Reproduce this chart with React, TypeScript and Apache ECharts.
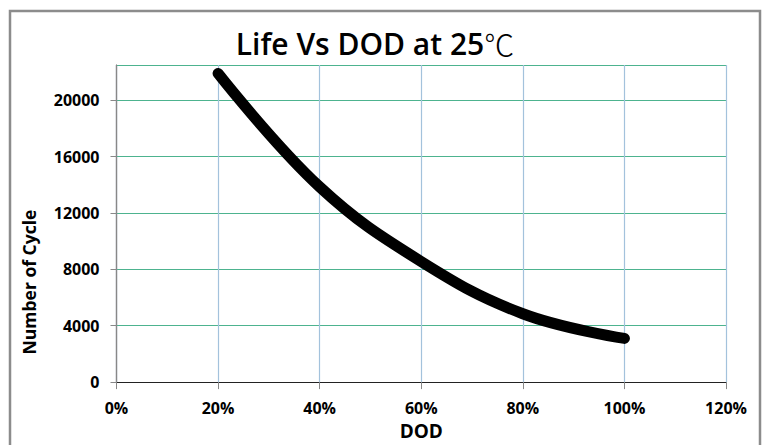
import React, { useEffect, useRef } from "react";
import * as echarts from "echarts";

const dodPercent = [20, 40, 60, 80, 100];
const cycles = [21900, 13850, 8550, 4850, 3100];
const titleMain = "Life Vs DOD at 25";
const titleUnit = "℃";
const xName = "DOD";
const yName = "Number of Cycle";

export default function App() {
  const ref = useRef<HTMLDivElement>(null);
  useEffect(() => {
    if (!ref.current) return;
    const chart = echarts.init(ref.current, null, { renderer: "svg" });
    const font = "'Open Sans', 'Noto Sans', sans-serif";
    const gray = "#888888";
    chart.setOption({
      animation: false,
      backgroundColor: "#ffffff",
      grid: { left: 116.5, right: 39, top: 65, bottom: 59 },
      graphic: [
        {
          type: "rect",
          shape: { x: 10, y: 11, width: 750, height: 500 },
          style: { fill: "none", stroke: "#8c8c8c", lineWidth: 2.5 },
          z: 0,
        },
        {
          type: "text",
          x: 375,
          y: 43,
          style: {
            text: "{a|" + titleMain + "}{b|" + titleUnit + "}",
            align: "center",
            verticalAlign: "middle",
            rich: {
              a: {
                fontFamily: font,
                fontSize: 30,
                fontWeight: 600,
                fill: "#000",
                color: "#000",
              },
              b: {
                fontFamily: "'Noto Sans CJK SC', 'DejaVu Serif', serif",
                fontSize: 30,
                fontWeight: 300,
                fill: "#000",
                color: "#000",
              },
            },
          },
        },
        {
          type: "text",
          x: 29,
          y: 282,
          rotation: Math.PI / 2,
          style: {
            text: yName,
            fontFamily: font,
            fontSize: 17.5,
            fontWeight: "bold",
            fill: "#000",
            align: "center",
            verticalAlign: "middle",
          },
        },
      ],
      xAxis: [
        {
          type: "value",
          min: 0,
          max: 120,
          interval: 20,
          name: xName,
          nameLocation: "middle",
          nameGap: 36,
          nameTextStyle: { fontFamily: font, fontSize: 19, fontWeight: "bold", color: "#000" },
          axisLine: { lineStyle: { color: gray, width: 1.2 } },
          axisTick: { show: true, length: 7, lineStyle: { color: gray } },
          axisLabel: {
            formatter: "{value}%",
            margin: 18,
            fontFamily: font,
            fontSize: 16,
            fontWeight: "bold",
            color: "#000",
          },
          splitLine: { show: true, lineStyle: { color: "#a3c2dc", width: 1.2 } },
        },
        {
          type: "value",
          position: "top",
          min: 0,
          max: 120,
          interval: 20,
          axisLine: { show: true, lineStyle: { color: "#222", width: 1.2 } },
          axisTick: { show: false },
          axisLabel: { show: false },
          splitLine: { show: false },
        },
      ],
      yAxis: [
        {
          type: "value",
          min: 0,
          max: 22500,
          interval: 4000,
          axisLine: { show: true, lineStyle: { color: gray, width: 1.2 } },
          axisTick: { show: true, length: 6, lineStyle: { color: gray } },
          axisLabel: {
            showMaxLabel: false,
            formatter: (v: number) => String(v),
            margin: 17,
            fontFamily: font,
            fontSize: 16,
            fontWeight: "bold",
            color: "#000",
          },
          splitLine: { show: true, lineStyle: { color: "#4db38f", width: 1.2 } },
        },
        {
          type: "value",
          position: "right",
          min: 0,
          max: 22500,
          interval: 4000,
          axisLine: { show: true, lineStyle: { color: gray, width: 1.2 } },
          axisTick: { show: false },
          axisLabel: { show: false },
          splitLine: { show: false },
        },
      ],
      series: [
        {
          type: "line",
          data: dodPercent.map((d, i) => [d, cycles[i]]),
          smooth: 0.4,
          symbol: "none",
          lineStyle: { color: "#000", width: 11, cap: "round", join: "round" },
          z: 5,
        },
      ],
    });
    return () => chart.dispose();
  }, []);
  return (
    <div
      ref={ref}
      style={{ position: "absolute", left: 0, top: 0, width: 765, height: 445 }}
    />
  );
}
